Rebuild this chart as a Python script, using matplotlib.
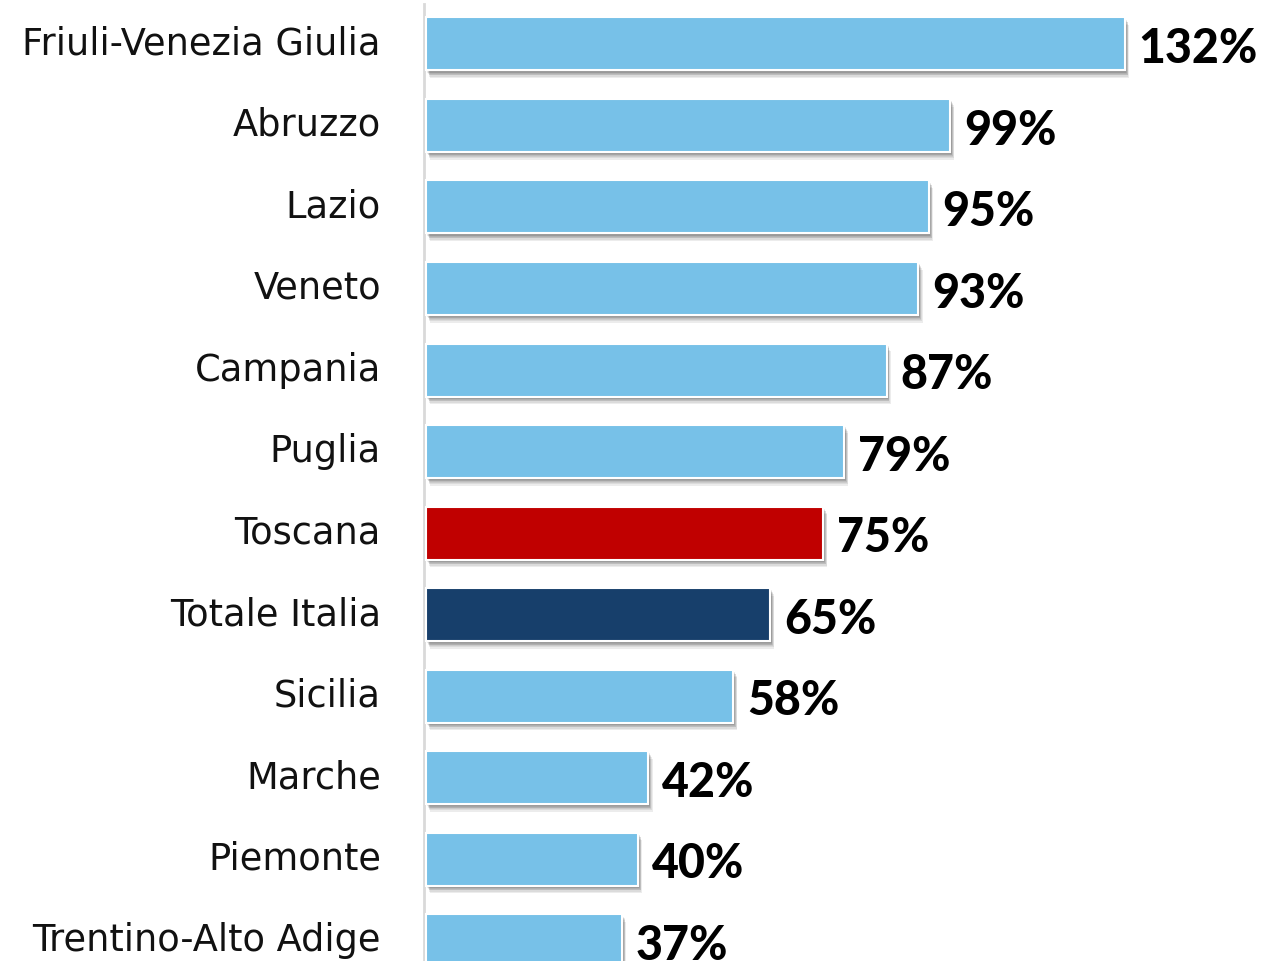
import matplotlib
matplotlib.use("Agg")
import matplotlib.pyplot as plt
import matplotlib.patheffects as pe
import matplotlib.transforms as mtrans

# Data (top to bottom)
regions = ["Friuli-Venezia Giulia", "Abruzzo", "Lazio", "Veneto", "Campania",
           "Puglia", "Toscana", "Totale Italia", "Sicilia", "Marche",
           "Piemonte", "Trentino-Alto Adige"]
values = [132, 99, 95, 93, 87, 79, 75, 65, 58, 42, 40, 37]

light_blue = "#77C1E8"
highlight = {"Toscana": "#C00000", "Totale Italia": "#173F6B"}
colors = [highlight.get(r, light_blue) for r in regions]

W, H = 1262, 962
fig = plt.figure(figsize=(W / 100, H / 100), dpi=100)
ax = fig.add_axes([424 / W, 0, 1 - 424 / W, (H - 5) / H])

pos = list(range(len(regions)))
bars = ax.barh(pos, values, height=0.65, color=colors, edgecolor="white",
               linewidth=1.5, zorder=3)

# soft drop shadow: stack of faint offset copies
shadow = [pe.SimplePatchShadow(offset=(dx, -dy), shadow_rgbFace="#333333", alpha=0.09)
          for dx, dy in [(1, 1.5), (1.5, 2.5), (2, 3.5), (2.5, 4.5), (3, 5.5), (2, 3), (1.5, 2)]]
for b in bars:
    b.set_path_effects(shadow + [pe.Normal()])

for p, v in zip(pos, values):
    ax.text(v + 2.6, p + 0.05, f"{v}%", va="center", ha="left",
            fontsize=33.5, fontweight="black", family=["Lato", "DejaVu Sans"],
            color="black")

ax.set_xlim(-0.38, 157.9)
ax.set_ylim(11.25, -0.49)
ax.set_yticks(pos)
ax.set_yticklabels(regions, fontsize=26.5, family=["DejaVu Sans"], color="#111111")
ax.tick_params(axis="y", length=0, pad=31)
shift = mtrans.ScaledTranslation(0, 5 / 100, fig.dpi_scale_trans)
for lbl in ax.get_yticklabels():
    lbl.set_transform(lbl.get_transform() + shift)
ax.set_xticks([])
for s in ["top", "right", "bottom"]:
    ax.spines[s].set_visible(False)
ax.spines["left"].set_color("#d9d9d9")
ax.spines["left"].set_linewidth(2)

fig.savefig("out.png", dpi=100)
